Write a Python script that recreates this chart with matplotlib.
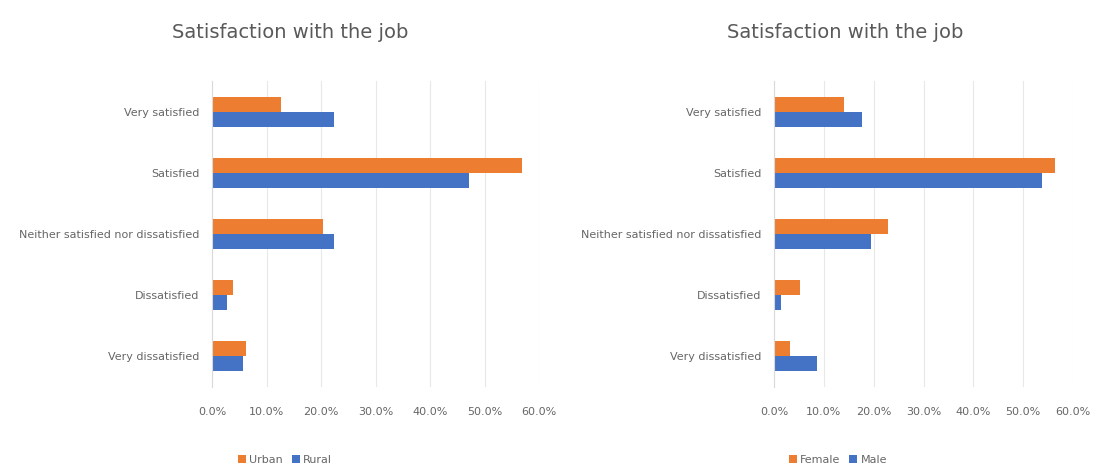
import matplotlib.pyplot as plt
from matplotlib.ticker import PercentFormatter, MultipleLocator

categories = ["Very satisfied", "Satisfied", "Neither satisfied nor dissatisfied",
              "Dissatisfied", "Very dissatisfied"]

urban = [12.7, 56.9, 20.4, 3.8, 6.3]
rural = [22.4, 47.1, 22.4, 2.8, 5.6]

female = [14.0, 56.4, 22.8, 5.3, 3.2]
male = [17.7, 53.7, 19.5, 1.4, 8.6]

ORANGE = "#ED7D31"
BLUE = "#4472C4"
GREY = "#595959"

plt.rcParams['font.family'] = ['DejaVu Sans']

fig = plt.figure(figsize=(10.96, 4.68), dpi=100)


def job_chart(rect, top_vals, bottom_vals, names, title_x, legend_x):
    ax = fig.add_axes(rect)
    y = list(range(len(categories)))
    h = 0.25
    ax.barh([i - h / 2 for i in y], top_vals, height=h, color=ORANGE, label=names[0])
    ax.barh([i + h / 2 for i in y], bottom_vals, height=h, color=BLUE, label=names[1])
    ax.set_ylim(len(categories) - 0.5, -0.5)
    ax.set_xlim(0, 60)
    ax.set_yticks(y)
    ax.set_yticklabels(categories)
    ax.xaxis.set_major_locator(MultipleLocator(10))
    ax.xaxis.set_major_formatter(PercentFormatter(decimals=1))
    ax.grid(axis="x", color="#e8e8e8", linewidth=0.8)
    ax.set_axisbelow(True)
    for s in ["top", "right", "bottom"]:
        ax.spines[s].set_visible(False)
    ax.spines["left"].set_color("#d9d9d9")
    ax.tick_params(axis="y", length=0, labelsize=8, colors="#666666", pad=9)
    ax.tick_params(axis="x", length=0, labelsize=8, colors="#666666", pad=15)
    fig.text(title_x, 1 - 32 / 468, "Satisfaction with the job", ha="center", va="center",
             fontsize=14, color=GREY)
    fig.legend(*ax.get_legend_handles_labels(), loc="center", ncol=2,
               bbox_to_anchor=(legend_x, 1 - 460 / 468), frameon=False, fontsize=8,
               handlelength=0.7, handleheight=0.7, handletextpad=0.3, columnspacing=0.8,
               labelcolor="#666666")
    return ax


job_chart([212 / 1096, 0.174, 327 / 1096, 0.652], urban, rural, ["Urban", "Rural"],
          290 / 1096, 285 / 1096)
job_chart([774 / 1096, 0.174, 299 / 1096, 0.652], female, male, ["Female", "Male"],
          845 / 1096, 838 / 1096)

plt.savefig("out.png", dpi=100)
